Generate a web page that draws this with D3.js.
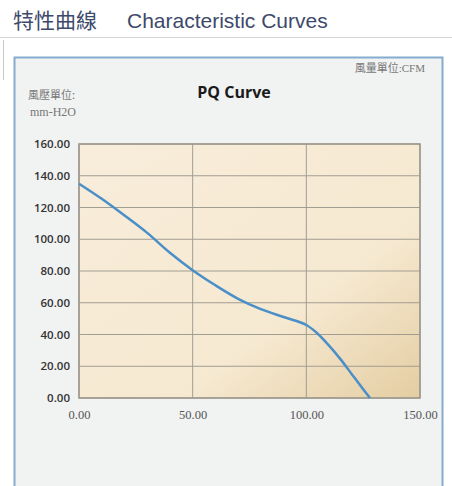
<!DOCTYPE html>
<html>
<head>
<meta charset="utf-8">
<script src="https://cdn.jsdelivr.net/npm/d3@7"></script>
<style>
  body { margin: 0; background: #fff; }
  svg { display: block; }
</style>
</head>
<body>
<div id="chart"></div>
<script>
// airflow (CFM) vs static pressure (mm-H2O)
const flow = [0, 10, 20, 30, 40, 50, 60, 70, 80, 90, 100, 105, 110, 115, 120, 125, 128];
const pressure = [135, 125.5, 115, 104, 91.5, 80.5, 71, 62.5, 56, 51, 46, 40.5, 33, 24.5, 15, 5.5, 0];
const xTicks = [0, 50, 100, 150];
const yTicks = [0, 20, 40, 60, 80, 100, 120, 140, 160];

const width = 452;
const height = 486;

const svg = d3.select("#chart")
  .append("svg")
  .attr("width", width)
  .attr("height", height);

// plot area
const plotLeft = 79, plotRight = 420, plotTop = 144, plotBottom = 398;

const x = d3.scaleLinear().domain([0, 150]).range([plotLeft, plotRight]);
const y = d3.scaleLinear().domain([0, 160]).range([plotBottom, plotTop]);

// page header
svg.append("text")
  .attr("x", 13)
  .attr("y", 28)
  .attr("fill", "#3d4a6b")
  .style("font-family", "'Noto Sans CJK TC', 'Liberation Sans', sans-serif")
  .style("font-size", "21px")
  .text("特性曲線");
svg.append("text")
  .attr("x", 127)
  .attr("y", 28)
  .attr("fill", "#3d4a6b")
  .style("font-family", "'Liberation Sans', Arial, sans-serif")
  .style("font-size", "21px")
  .text("Characteristic Curves");
svg.append("line")
  .attr("x1", 0).attr("x2", width)
  .attr("y1", 37.5).attr("y2", 37.5)
  .attr("stroke", "#d6d6d6");
svg.append("line")
  .attr("x1", 3.5).attr("x2", 3.5)
  .attr("y1", 40).attr("y2", 80)
  .attr("stroke", "#c8c8c8");

// outer panel
svg.append("rect")
  .attr("x", 14.5).attr("y", 57.5)
  .attr("width", 428).attr("height", 440)
  .attr("fill", "#f1f2f2")
  .attr("stroke", "#86acd0")
  .attr("stroke-width", 2);

// plot background gradient
const defs = svg.append("defs");
const grad = defs.append("linearGradient")
  .attr("id", "bg")
  .attr("x1", "0%").attr("y1", "0%")
  .attr("x2", "100%").attr("y2", "100%");
grad.append("stop").attr("offset", "0%").attr("stop-color", "#f8eddb");
grad.append("stop").attr("offset", "65%").attr("stop-color", "#f6e9d1");
grad.append("stop").attr("offset", "100%").attr("stop-color", "#e4cda2");

svg.append("rect")
  .attr("x", plotLeft).attr("y", plotTop)
  .attr("width", plotRight - plotLeft).attr("height", plotBottom - plotTop)
  .attr("fill", "url(#bg)");

// gridlines
svg.append("g")
  .selectAll("line")
  .data(yTicks)
  .join("line")
  .attr("x1", plotLeft).attr("x2", plotRight)
  .attr("y1", (d) => y(d)).attr("y2", (d) => y(d))
  .attr("stroke", "#a29d92")
  .attr("stroke-width", 1);
svg.append("g")
  .selectAll("line")
  .data(xTicks)
  .join("line")
  .attr("x1", (d) => x(d)).attr("x2", (d) => x(d))
  .attr("y1", plotTop).attr("y2", plotBottom)
  .attr("stroke", "#a29d92")
  .attr("stroke-width", 1);

svg.append("rect")
  .attr("x", plotLeft).attr("y", plotTop)
  .attr("width", plotRight - plotLeft).attr("height", plotBottom - plotTop)
  .attr("fill", "none")
  .attr("stroke", "#9c978c")
  .attr("stroke-width", 1.5);

// axes
const yAxis = svg.append("g")
  .attr("transform", `translate(${plotLeft - 6},0)`)
  .call(d3.axisLeft(y).tickValues(yTicks).tickFormat(d3.format(".2f")).tickSize(0));
yAxis.select(".domain").remove();
yAxis.selectAll("text")
  .attr("fill", "#333")
  .style("font-family", "'Open Sans', sans-serif")
  .style("font-size", "11.5px")
  .style("font-weight", "600");

const xAxis = svg.append("g")
  .attr("transform", `translate(0,${plotBottom + 9})`)
  .call(d3.axisBottom(x).tickValues(xTicks).tickFormat(d3.format(".2f")).tickSize(0));
xAxis.select(".domain").remove();
xAxis.selectAll("text")
  .attr("fill", "#555")
  .style("font-family", "'Liberation Serif', serif")
  .style("font-size", "12.5px");

// curve
const pts = flow.map((f, i) => [f, pressure[i]]);
svg.append("path")
  .datum(pts)
  .attr("fill", "none")
  .attr("stroke", "#4a8fc8")
  .attr("stroke-width", 2.5)
  .attr("d", d3.line().x((d) => x(d[0])).y((d) => y(d[1])).curve(d3.curveCatmullRom.alpha(0.5)));

// titles and unit labels
svg.append("text")
  .attr("x", 234).attr("y", 98)
  .attr("text-anchor", "middle")
  .attr("fill", "#1a1a1a")
  .style("font-family", "'Open Sans', sans-serif")
  .style("font-size", "16px")
  .style("font-weight", "bold")
  .text("PQ Curve");

svg.append("text")
  .attr("x", 28).attr("y", 99)
  .attr("fill", "#777")
  .style("font-family", "'Noto Sans CJK TC', serif")
  .style("font-size", "11px")
  .text("風壓單位:");
svg.append("text")
  .attr("x", 30).attr("y", 116)
  .attr("fill", "#777")
  .style("font-family", "'Liberation Serif', serif")
  .style("font-size", "12px")
  .text("mm-H2O");

svg.append("text")
  .attr("x", 425).attr("y", 72)
  .attr("text-anchor", "end")
  .attr("fill", "#777")
  .style("font-family", "'Liberation Serif', 'Noto Sans CJK TC', serif")
  .style("font-size", "11px")
  .text("風量單位:CFM");
</script>
</body>
</html>
